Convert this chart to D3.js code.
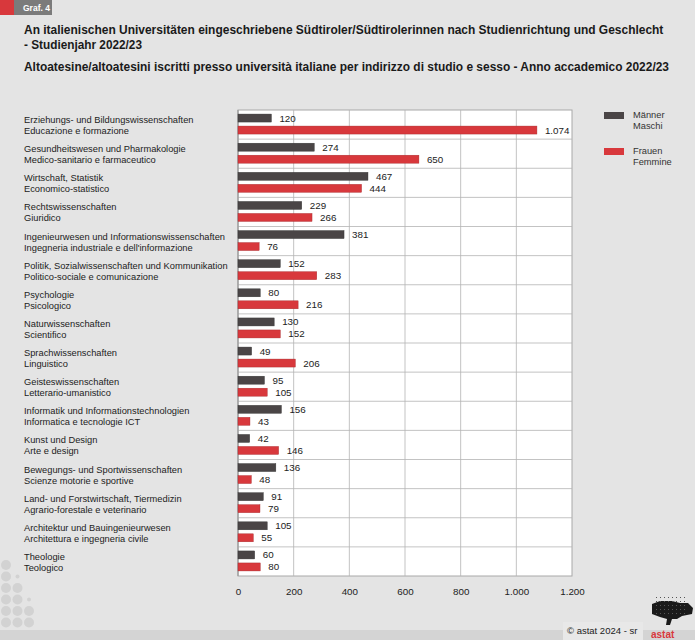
<!DOCTYPE html>
<html><head><meta charset="utf-8">
<script src="https://cdn.jsdelivr.net/npm/d3@7"></script>
<style>body{margin:0;background:#e4e4e4;} svg{display:block;font-family:"Liberation Sans",Arial,sans-serif;}</style>
</head><body><svg id="c" width="695" height="640"></svg>
<script>
const categoriesDe = ["Erziehungs- und Bildungswissenschaften","Gesundheitswesen und Pharmakologie","Wirtschaft, Statistik","Rechtswissenschaften","Ingenieurwesen und Informationswissenschaften","Politik, Sozialwissenschaften und Kommunikation","Psychologie","Naturwissenschaften","Sprachwissenschaften","Geisteswissenschaften","Informatik und Informationstechnologien","Kunst und Design","Bewegungs- und Sportwissenschaften","Land- und Forstwirtschaft, Tiermedizin","Architektur und Bauingenieurwesen","Theologie"];
const categoriesIt = ["Educazione e formazione","Medico-sanitario e farmaceutico","Economico-statistico","Giuridico","Ingegneria industriale e dell'informazione","Politico-sociale e comunicazione","Psicologico","Scientifico","Linguistico","Letterario-umanistico","Informatica e tecnologie ICT","Arte e design","Scienze motorie e sportive","Agrario-forestale e veterinario","Architettura e ingegneria civile","Teologico"];
const males = [120,274,467,229,381,152,80,130,49,95,156,42,136,91,105,60];
const females = [1074,650,444,266,76,283,216,152,206,105,43,146,48,79,55,80];
const ticks = [0,200,400,600,800,1000,1200];
const seriesNames = [["Männer","Maschi"],["Frauen","Femmine"]];
const titleDe1 = "An italienischen Universitäten eingeschriebene Südtiroler/Südtirolerinnen nach Studienrichtung und Geschlecht";
const titleDe2 = "- Studienjahr 2022/23";
const titleIt = "Altoatesine/altoatesini iscritti presso università italiane per indirizzo di studio e sesso - Anno accademico 2022/23";

const svg = d3.select("#c");
const fmt = v => d3.format(",")(v).replace(/,/g,".");
const M = "#4a4546", F = "#d8383c";

// background
svg.append("rect").attr("width",695).attr("height",640).attr("fill","#e4e4e4");
svg.append("rect").attr("x",0).attr("y",630).attr("width",695).attr("height",10).attr("fill","#d4d4d4");

// Graf label
svg.append("rect").attr("x",0).attr("y",0).attr("width",14).attr("height",15).attr("fill","#d8383c");
svg.append("rect").attr("x",14).attr("y",0).attr("width",38).attr("height",15).attr("fill","#7b7b7b");
svg.append("text").attr("x",23).attr("y",11).attr("fill","#fff").attr("font-size",8.5).attr("font-weight","bold").text("Graf. 4");

// titles (horizontally condensed to match the narrow reference face)
function title(txt, yPos, targetW){
  const g = svg.append("g");
  const t = g.append("text").attr("x",0).attr("y",0).attr("font-size",13).attr("font-weight","bold").attr("fill","#1a1a1a").text(txt);
  const w = t.node().getComputedTextLength();
  g.attr("transform",`translate(24,${yPos}) scale(${targetW/w},1)`);
}
title(titleDe1, 34, 640);
title(titleDe2, 49, 118);
title(titleIt, 71, 646);

// scales
const x = d3.scaleLinear().domain([0,1200]).range([238,572]);
const y = d3.scaleBand().domain(d3.range(categoriesDe.length)).range([110,576]);
const bw = y.bandwidth();

// plot area
svg.append("rect").attr("x",x(0)).attr("y",110).attr("width",x(1200)-x(0)).attr("height",576-110).attr("fill","#fff").attr("stroke","#a8a8a8");
svg.selectAll(".vg").data(ticks.slice(1,-1)).join("line")
  .attr("x1",d=>x(d)).attr("x2",d=>x(d)).attr("y1",110).attr("y2",576).attr("stroke","#b4b4b4").attr("stroke-width",0.8);
svg.selectAll(".hg").data(d3.range(1,categoriesDe.length)).join("line")
  .attr("x1",x(0)).attr("x2",x(1200)).attr("y1",d=>y(d)).attr("y2",d=>y(d)).attr("stroke","#b4b4b4").attr("stroke-width",0.8);
svg.append("line").attr("x1",x(0)).attr("x2",x(0)).attr("y1",110).attr("y2",576).attr("stroke","#9a9a9a").attr("stroke-width",1.2);

// axis
const ax = svg.append("g").attr("transform","translate(0,576)")
  .call(d3.axisBottom(x).tickValues(ticks).tickFormat(fmt).tickSize(0).tickPadding(12));
ax.select(".domain").remove();
ax.selectAll("text").attr("font-size",9.8).attr("fill","#222").attr("font-family","Liberation Sans, Arial, sans-serif");

// bars
const barH = 8;
const mY = i => y(i) + bw*0.5 - barH - 2.5;
const fY = i => y(i) + bw*0.5 + 1.5;
svg.selectAll(".mb").data(males).join("rect")
  .attr("x",x(0)).attr("y",(d,i)=>mY(i)).attr("width",d=>x(d)-x(0)).attr("height",barH)
  .attr("fill",M).attr("stroke","#333").attr("stroke-width",0.4);
svg.selectAll(".fb").data(females).join("rect")
  .attr("x",x(0)).attr("y",(d,i)=>fY(i)).attr("width",d=>x(d)-x(0)).attr("height",barH)
  .attr("fill",F).attr("stroke","#a52a2d").attr("stroke-width",0.4);
svg.selectAll(".ml").data(males).join("text")
  .attr("x",d=>x(d)+8).attr("y",(d,i)=>mY(i)+barH/2+3.5).attr("font-size",9.8).attr("fill","#222").text(fmt);
svg.selectAll(".fl").data(females).join("text")
  .attr("x",d=>x(d)+8).attr("y",(d,i)=>fY(i)+barH/2+3.5).attr("font-size",9.8).attr("fill","#222").text(fmt);

// category labels
const cl = svg.selectAll(".cl").data(categoriesDe).join("g");
cl.append("text").attr("x",24).attr("y",(d,i)=>y(i)+bw*0.5-1.5).attr("font-size",9.3).attr("fill","#222").text(d=>d);
cl.append("text").attr("x",24).attr("y",(d,i)=>y(i)+bw*0.5+9.5).attr("font-size",9.3).attr("fill","#222").text((d,i)=>categoriesIt[i]);

// legend
const lg = [{c:M, y:112},{c:F, y:148}];
lg.forEach((l,k)=>{
  svg.append("rect").attr("x",604).attr("y",l.y).attr("width",20).attr("height",7).attr("fill",l.c);
  svg.append("text").attr("x",633).attr("y",l.y+6).attr("font-size",9.3).attr("fill","#333").text(seriesNames[k][0]);
  svg.append("text").attr("x",633).attr("y",l.y+17).attr("font-size",9.3).attr("fill","#333").text(seriesNames[k][1]);
});

// decorative dots (bottom left)
const dots = [[0,0,5],[0,1,5],[1,1,2],[0,2,5],[1,2,5],[0,3,5],[1,3,5],[2,3,2],[0,4,5],[1,4,5],[2,4,5],[0,5,5],[1,5,5],[2,5,5]];
svg.selectAll(".dot").data(dots).join("circle")
  .attr("cx",d=>6+d[0]*11.5).attr("cy",d=>565+d[1]*11.5).attr("r",d=>d[2]).attr("fill","#d2d2d2");

// footer
svg.append("rect").attr("x",563).attr("y",622).attr("width",80).attr("height",18).attr("fill","#e8e8e8");
svg.append("text").attr("x",567).attr("y",634).attr("font-size",9.5).attr("fill","#222").text("© astat 2024 - sr");
const lgG = svg.append("g");
lgG.append("path").attr("d","M652,604 L660,601 L672,601 L680,603 L688,603 L693,608 L692,614 L682,616 L677,619 L672,619 L670,625 L666,625 L667,619 L660,617 L652,614 Z").attr("fill","#1a1a1a");
for(let i=0;i<8;i++) for(let j=0;j<5;j++) lgG.append("rect").attr("x",656+i*4).attr("y",597+j*4).attr("width",1).attr("height",1).attr("fill","#555");
svg.append("text").attr("x",651).attr("y",638).attr("font-size",10).attr("font-weight","bold").attr("fill","#d8383c").text("astat");
</script></body></html>
